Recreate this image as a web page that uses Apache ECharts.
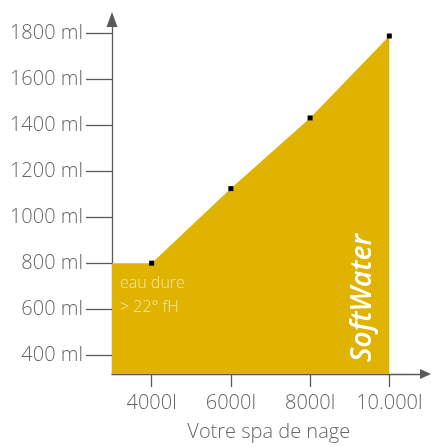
<!DOCTYPE html>
<html>
<head>
<meta charset="utf-8">
<script src="https://cdn.jsdelivr.net/npm/echarts@6/dist/echarts.min.js"></script>
<style>
  html, body { margin: 0; padding: 0; background: #fff; }
  #chart { width: 432px; height: 447px; }
</style>
</head>
<body>
<div id="chart"></div>
<script>
// volume du spa (l) et dosage (ml)
const volumes = [3000, 4000, 6000, 8000, 10000];
const doses = [800, 800, 1125, 1433, 1790];

const xTickValues = [4000, 6000, 8000, 10000];
const xTickLabels = ['4000l', '6000l', '8000l', '10.000l'];
const yTickValues = [400, 600, 800, 1000, 1200, 1400, 1600, 1800];
const yTickLabels = ['400 ml', '600 ml', '800 ml', '1000 ml', '1200 ml', '1400 ml', '1600 ml', '1800 ml'];

const axisColor = '#5a5a5a';
const textColor = '#666';
const fillColor = '#e0b300';
const font = 'Open Sans';

const chart = echarts.init(document.getElementById('chart'));

const seriesData = volumes.map((v, i) => ({
  value: [v, doses[i]],
  // le premier point est le bord de l'axe, pas de marqueur
  symbol: i === 0 ? 'none' : 'rect'
}));

chart.setOption({
  animation: false,
  grid: { left: 112, right: 6.5, top: 19.5, bottom: 69 },
  xAxis: {
    type: 'value',
    min: 3000,
    max: 10913,
    splitLine: { show: false },
    axisLine: {
      show: true,
      lineStyle: { color: axisColor, width: 1.3 },
      symbol: ['none', 'triangle'],
      symbolSize: [10, 11]
    },
    axisTick: {
      show: true,
      length: 13,
      customValues: xTickValues,
      lineStyle: { color: axisColor, width: 1.3 }
    },
    axisLabel: {
      customValues: xTickValues,
      margin: 19,
      color: textColor,
      fontFamily: font,
      fontWeight: 300,
      fontSize: 20,
      formatter: v => xTickLabels[xTickValues.indexOf(v)]
    },
    name: 'Votre spa de nage',
    nameLocation: 'middle',
    nameGap: 48,
    nameTextStyle: { color: textColor, fontFamily: font, fontWeight: 300, fontSize: 20 }
  },
  yAxis: {
    type: 'value',
    min: 317,
    max: 1862,
    splitLine: { show: false },
    axisLine: {
      show: true,
      lineStyle: { color: axisColor, width: 1.3 },
      symbol: ['none', 'triangle'],
      symbolSize: [11, 15]
    },
    axisTick: {
      show: true,
      length: 26,
      customValues: yTickValues,
      lineStyle: { color: axisColor, width: 1.3 }
    },
    axisLabel: {
      customValues: yTickValues,
      margin: 29,
      color: textColor,
      fontFamily: font,
      fontWeight: 300,
      fontSize: 20,
      formatter: v => yTickLabels[yTickValues.indexOf(v)]
    }
  },
  series: [{
    type: 'line',
    data: seriesData,
    symbolSize: 5,
    itemStyle: { color: '#000' },
    lineStyle: { width: 0 },
    areaStyle: { color: fillColor, opacity: 1 },
    z: 1
  }],
  graphic: {
    elements: [
      {
        type: 'text', x: 120, y: 283, z: 100,
        style: { text: 'eau dure', fill: '#f7e6a8', font: '300 16px "Open Sans"', verticalAlign: 'middle' }
      },
      {
        type: 'text', x: 120, y: 307, z: 100,
        style: { text: '> 22° fH', fill: '#f7e6a8', font: '300 16px "Open Sans"', verticalAlign: 'middle' }
      },
      {
        type: 'text', x: 363, y: 298, z: 100, rotation: Math.PI / 2,
        style: {
          text: 'SoftWater', fill: '#fff',
          font: 'italic 600 28px "Open Sans"',
          align: 'center', verticalAlign: 'middle'
        }
      }
    ]
  }
});
</script>
</body>
</html>
